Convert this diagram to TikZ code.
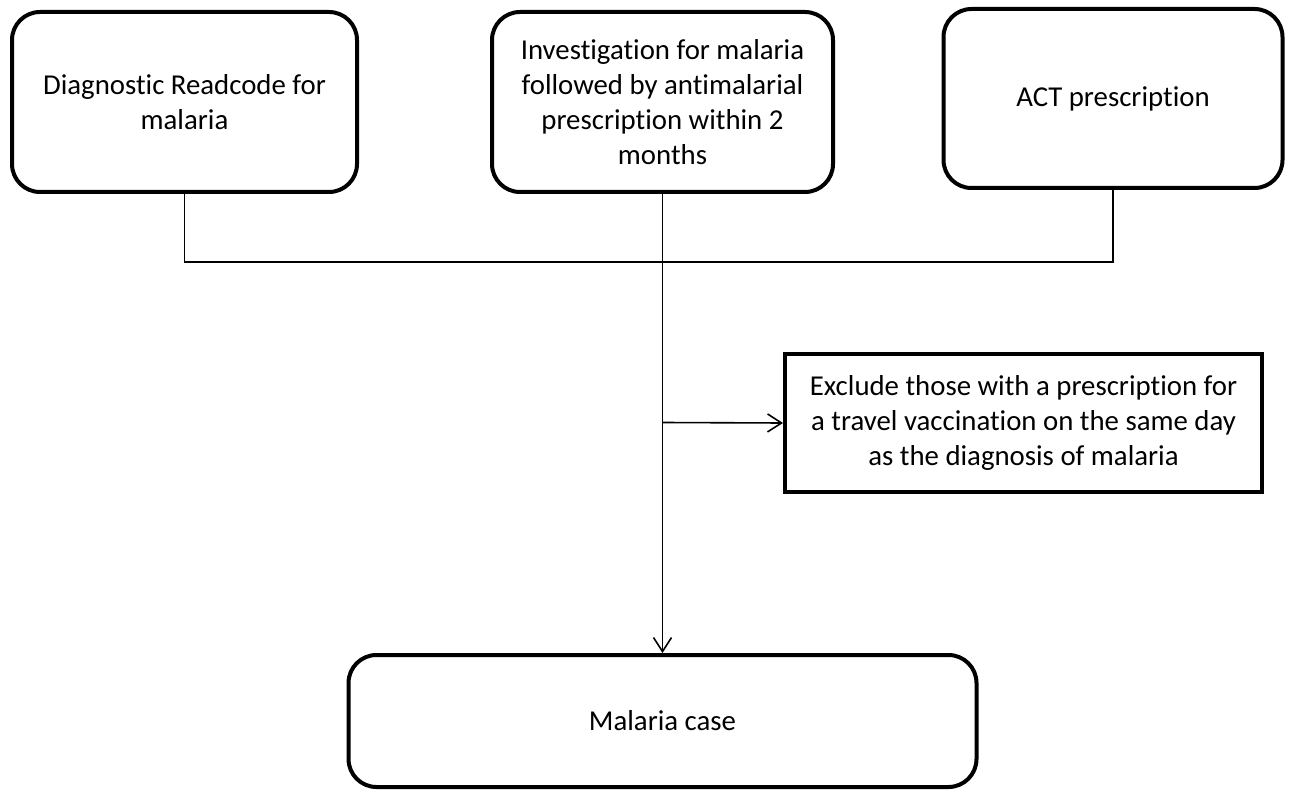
\documentclass[tikz,border=0pt]{standalone}
\usepackage{fontspec}
\setmainfont{Carlito}[Ligatures=NoCommon]
\usetikzlibrary{arrows.meta}

\begin{document}
\begin{tikzpicture}[x=0.5pt,y=-0.5pt,>={Straight Barb[length=7pt,width=9pt]},
    semithick,
    roundbox/.style={draw,line width=2pt,rounded corners=14pt,align=center,
      font=\fontsize{14.4}{17.5}\selectfont,inner sep=0pt},
    squarebox/.style={draw,line width=2pt,align=center,
      font=\fontsize{14.4}{17.5}\selectfont,inner sep=0pt},
    link/.style={line width=0.8pt}]
  \useasboundingbox (0,0) rectangle (1290,791);
  \node[roundbox, minimum width=172.5pt, minimum height=90pt] (diag) at (184.5,102)
    {Diagnostic Readcode for\\ malaria};
  \node[roundbox, minimum width=170.5pt, minimum height=90pt] (invest) at (662.5,102)
    {Investigation for malaria\\ followed by antimalarial\\ prescription within 2\\ months};
  \node[roundbox, minimum width=169.5pt, minimum height=89.5pt] (act) at (1113,98.5)
    {ACT prescription};
  \node[squarebox, minimum width=238.5pt, minimum height=69pt] (excl) at (1023.5,423)
    {Exclude those with a prescription for\\ a travel vaccination on the same day\\ as the diagnosis of malaria};
  \node[roundbox, minimum width=314pt, minimum height=66pt] (case) at (662.5,721)
    {Malaria case};
  \coordinate (join) at (662.5,262);
  \coordinate (branch) at (662.5,422.5);
  \draw[link] (diag.south) |- (join) -| (act.south);
  \draw[link,->] (invest.south) -- (case.north);
  \draw[link,->] (branch) -- (excl.west);
\end{tikzpicture}
\end{document}
